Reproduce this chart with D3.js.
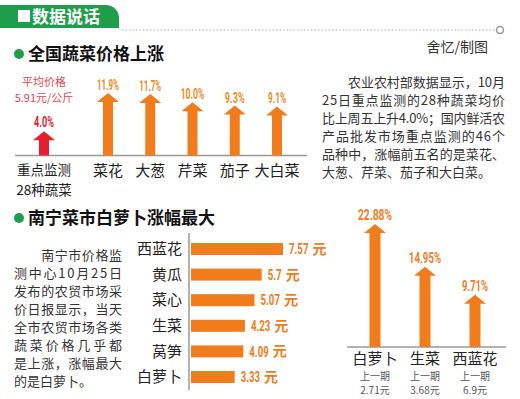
<!DOCTYPE html>
<html>
<head>
<meta charset="utf-8">
<script src="https://d3js.org/d3.v7.min.js"></script>
<style>
  body { margin: 0; background: #fff; }
  text { font-family: "Noto Sans CJK SC", sans-serif; }
  .num { font-family: "Roboto", "DejaVu Sans", sans-serif; font-weight: bold; }
</style>
</head>
<body>
<svg width="520" height="399"></svg>
<script>
// data
const natCats = ["菜花", "大葱", "芹菜", "茄子", "大白菜"];
const natVals = [11.9, 11.7, 10.0, 9.3, 9.1];
const avgLabel = ["重点监测", "28种蔬菜"];
const avgVal = 4.0;
const avgNote = ["平均价格", "5.91元/公斤"];

const nnCats = ["西蓝花", "黄瓜", "菜心", "生菜", "莴笋", "白萝卜"];
const nnPrices = [7.57, 5.7, 5.07, 4.23, 4.09, 3.33];

const riseCats = ["白萝卜", "生菜", "西蓝花"];
const riseVals = [22.88, 14.95, 9.71];
const prevPrices = ["2.71元", "3.68元", "6.9元"];

const para1 = ["　　农业农村部数据显示，10月", "25日重点监测的28种蔬菜均价", "比上周五上升4.0%；国内鲜活农",
  "产品批发市场重点监测的46个", "品种中，涨幅前五名的是菜花、", "大葱、芹菜、茄子和大白菜。"];
const para2 = ["　　南宁市价格监", "测中心10月25日", "发布的农贸市场采", "价日报显示，当天",
  "全市农贸市场各类", "蔬菜价格几乎都", "是上涨，涨幅最大", "的是白萝卜。"];

const green = "#1e9e4a", orange = "#f07c1c", red = "#e5202e", ink = "#222";
const svg = d3.select("svg");

// arrow shape
function arrow(cx, top, base, shaft, head, headH) {
  const s = shaft / 2, h = head / 2;
  return "M" + (cx - s) + "," + base + "V" + (top + headH) + "H" + (cx - h) +
    "L" + cx + "," + top + "L" + (cx + h) + "," + (top + headH) + "H" + (cx + s) + "V" + base + "Z";
}

// narrow number labels: width target per char, then squash with a scale
function numW(s, per) {
  let w = 0;
  for (const c of s) w += c === "." ? 0.6 : c === "1" ? 0.7 : 1;
  return w * per;
}
function squeezed(parent, x, y, str, per, size, color, anchor) {
  const t = parent.append("text").attr("class", "num").attr("font-size", size)
    .attr("fill", color).attr("text-anchor", anchor).attr("dy", "0.35em").text(str);
  const k = numW(str, per) / t.node().getComputedTextLength();
  t.attr("transform", "translate(" + x + "," + y + ") scale(" + k + ",1)");
  return t;
}

// header tab
svg.append("path")
  .attr("d", "M0,5H106A13,13 0 0 1 119,18V28H0Z")
  .attr("fill", green);
svg.append("rect").attr("x", 18).attr("y", 10).attr("width", 12).attr("height", 12).attr("fill", "#fff");
svg.append("text").attr("x", 32).attr("y", 22.5).attr("fill", "#fff")
  .attr("font-size", 17).attr("font-weight", "bold").text("数据说话");
svg.append("line").attr("x1", 122).attr("x2", 496).attr("y1", 30).attr("y2", 30)
  .attr("stroke", "#aaa").attr("stroke-width", 1.2).attr("stroke-dasharray", "1.5,2");
svg.append("circle").attr("cx", 500).attr("cy", 30).attr("r", 3.5)
  .attr("fill", "#fff").attr("stroke", "#999").attr("stroke-width", 1.5);
svg.append("text").attr("x", 488).attr("y", 47).attr("dy", "0.35em").attr("text-anchor", "end")
  .attr("font-size", 14).attr("fill", "#333").text("舍忆/制图");

// section titles
[["全国蔬菜价格上涨", 54], ["南宁菜市白萝卜涨幅最大", 218]].forEach(function(t) {
  svg.append("circle").attr("cx", 19).attr("cy", t[1]).attr("r", 5).attr("fill", green);
  svg.append("text").attr("x", 28).attr("y", t[1]).attr("dy", "0.35em")
    .attr("font-size", 17).attr("font-weight", "bold").attr("fill", "#111").text(t[0]);
});

// chart 1: national rises
const base1 = 155.5;
const x1 = d3.scalePoint().domain(natCats).range([108, 277]);
const y1 = d3.scaleLinear().domain([-1, 11.9]).range([base1, 93]);
const avgX = 44;

svg.append("line").attr("x1", 15).attr("x2", 307).attr("y1", base1).attr("y2", base1)
  .attr("stroke", "#999").attr("stroke-width", 1.5);

svg.append("path").attr("d", arrow(avgX, y1(avgVal), base1, 10, 22, 9)).attr("fill", red);
squeezed(svg, avgX, y1(avgVal) - 9, avgVal.toFixed(1) + "%", 5.5, 14, red, "middle");
avgNote.forEach(function(d, i) {
  svg.append("text").attr("x", avgX).attr("y", 82 + i * 16).attr("dy", "0.35em")
    .attr("text-anchor", "middle").attr("font-size", 11).attr("fill", "#e2474f").text(d);
});
avgLabel.forEach(function(d, i) {
  svg.append("text").attr("x", avgX).attr("y", 170 + i * 20).attr("dy", "0.35em")
    .attr("text-anchor", "middle").attr("font-size", 13.5).attr("fill", ink).text(d);
});

natCats.forEach(function(d, i) {
  svg.append("path").attr("d", arrow(x1(d), y1(natVals[i]), base1, 10, 22, 9)).attr("fill", orange);
  squeezed(svg, x1(d), y1(natVals[i]) - 8, natVals[i].toFixed(1) + "%", 5.5, 14, "#ee8a26", "middle");
  svg.append("text").attr("x", x1(d)).attr("y", 171).attr("dy", "0.35em")
    .attr("text-anchor", "middle").attr("font-size", 15).attr("fill", ink).text(d);
});

// paragraphs
function para(lines, x0, x1e, y0, step, size) {
  lines.forEach(function(l, i) {
    const t = svg.append("text").attr("x", x0).attr("y", y0 + i * step).attr("dy", "0.35em")
      .attr("font-size", size).attr("fill", "#333").text(l);
    if (i < lines.length - 1) t.attr("textLength", x1e - x0).attr("lengthAdjust", "spacing");
  });
}
para(para1, 322, 505, 82, 18, 13);
para(para2, 14, 122, 255, 18, 13);

// chart 2: Nanning prices
const xb = d3.scaleLinear().domain([-0.5, 7.57]).range([0, 92]);
const yb = d3.scalePoint().domain(nnCats).range([249, 377]);
const barX = 191, barH = 12;
svg.append("line").attr("x1", 189).attr("x2", 189).attr("y1", 233).attr("y2", 390)
  .attr("stroke", "#999").attr("stroke-width", 1.5);
nnCats.forEach(function(d, i) {
  const end = barX + xb(nnPrices[i]);
  svg.append("rect").attr("x", barX).attr("y", yb(d) - barH / 2)
    .attr("width", xb(nnPrices[i])).attr("height", barH).attr("fill", orange);
  svg.append("text").attr("x", 182).attr("y", yb(d)).attr("dy", "0.35em")
    .attr("text-anchor", "end").attr("font-size", 15).attr("fill", ink).text(d);
  const s = String(nnPrices[i]);
  squeezed(svg, end + 6, yb(d), s, 5.4, 15, orange, "start");
  svg.append("text").attr("x", end + 10 + numW(s, 5.4)).attr("y", yb(d)).attr("dy", "0.35em")
    .attr("font-size", 14).attr("font-weight", "bold").attr("fill", orange).text("元");
});

// chart 3: biggest rises
const base3 = 347;
const x3 = d3.scalePoint().domain(riseCats).range([375, 475]);
const y3 = d3.scaleLinear().domain([0, 22.88]).range([base3, 224]);
svg.append("line").attr("x1", 347).attr("x2", 506).attr("y1", base3).attr("y2", base3)
  .attr("stroke", "#999").attr("stroke-width", 1.5);
riseCats.forEach(function(d, i) {
  svg.append("path").attr("d", arrow(x3(d), y3(riseVals[i]), base3, 11, 22, 9)).attr("fill", orange);
  squeezed(svg, x3(d), y3(riseVals[i]) - 9, riseVals[i].toFixed(2) + "%", 6.1, 15, orange, "middle");
  svg.append("text").attr("x", x3(d)).attr("y", 358.5).attr("dy", "0.35em")
    .attr("text-anchor", "middle").attr("font-size", 15).attr("fill", ink).text(d);
  svg.append("text").attr("x", x3(d)).attr("y", 376.5).attr("dy", "0.35em")
    .attr("text-anchor", "middle").attr("font-size", 10).attr("fill", "#555").text("上一期");
  svg.append("text").attr("x", x3(d)).attr("y", 390.5).attr("dy", "0.35em")
    .attr("text-anchor", "middle").attr("font-size", 10).attr("fill", "#555").text(prevPrices[i]);
});
</script>
</body>
</html>
